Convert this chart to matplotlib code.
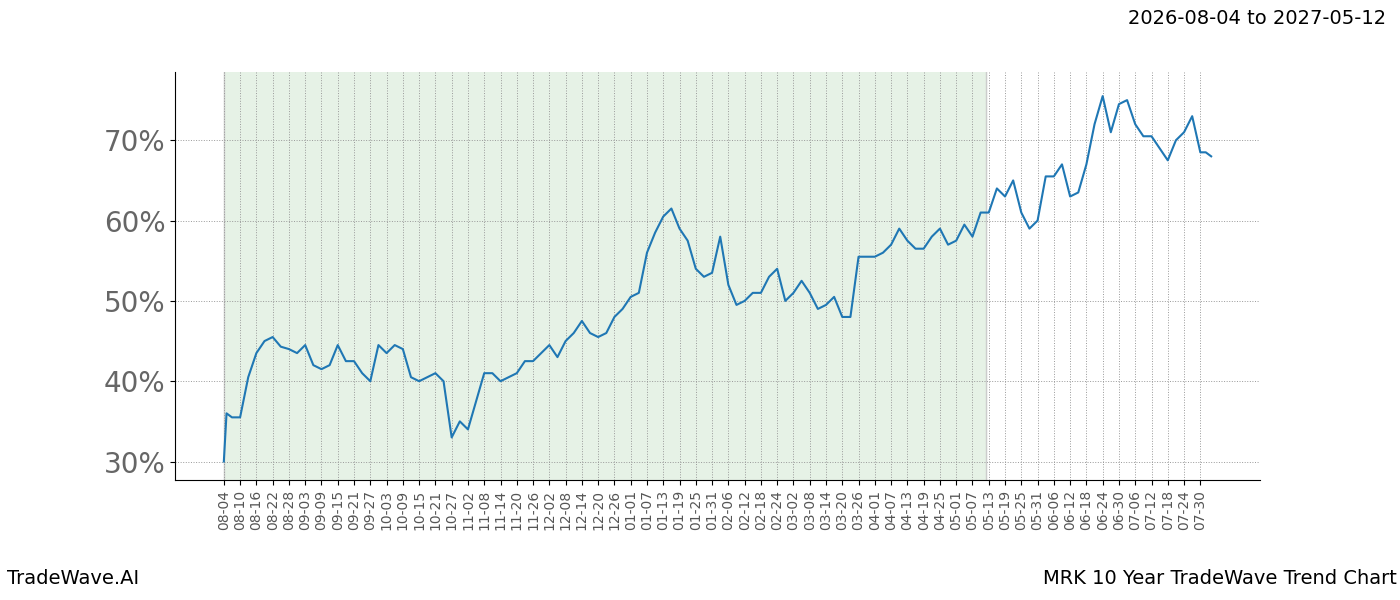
import matplotlib
matplotlib.use("Agg")
import matplotlib.pyplot as plt
import pandas as pd

dates = ["2026-08-04","2026-08-05","2026-08-07","2026-08-10","2026-08-13","2026-08-16","2026-08-19","2026-08-22","2026-08-25","2026-08-28","2026-08-31",
"2026-09-03","2026-09-06","2026-09-09","2026-09-12","2026-09-15","2026-09-18","2026-09-21","2026-09-24","2026-09-27","2026-09-30",
"2026-10-03","2026-10-06","2026-10-09","2026-10-12","2026-10-15","2026-10-18","2026-10-21","2026-10-24","2026-10-27","2026-10-30",
"2026-11-02","2026-11-05","2026-11-08","2026-11-11","2026-11-14","2026-11-17","2026-11-20","2026-11-23","2026-11-26","2026-11-29",
"2026-12-02","2026-12-05","2026-12-08","2026-12-11","2026-12-14","2026-12-17","2026-12-20","2026-12-23","2026-12-26","2026-12-29",
"2027-01-01","2027-01-04","2027-01-07","2027-01-10","2027-01-13","2027-01-16","2027-01-19","2027-01-22","2027-01-25","2027-01-28","2027-01-31",
"2027-02-03","2027-02-06","2027-02-09","2027-02-12","2027-02-15","2027-02-18","2027-02-21","2027-02-24","2027-02-27",
"2027-03-02","2027-03-05","2027-03-08","2027-03-11","2027-03-14","2027-03-17","2027-03-20","2027-03-23","2027-03-26","2027-03-29",
"2027-04-01","2027-04-04","2027-04-07","2027-04-10","2027-04-13","2027-04-16","2027-04-19","2027-04-22","2027-04-25","2027-04-28",
"2027-05-01","2027-05-04","2027-05-07","2027-05-10","2027-05-13","2027-05-16","2027-05-19","2027-05-22","2027-05-25","2027-05-28","2027-05-31",
"2027-06-03","2027-06-06","2027-06-09","2027-06-12","2027-06-15","2027-06-18","2027-06-21","2027-06-24","2027-06-27","2027-06-30",
"2027-07-03","2027-07-06","2027-07-09","2027-07-12","2027-07-15","2027-07-18","2027-07-21","2027-07-24","2027-07-27","2027-07-30","2027-08-01","2027-08-03"]
values = [30,36,35.5,35.5,40.5,43.5,45,45.5,44.3,44,43.5,
44.5,42,41.5,42,44.5,42.5,42.5,41,40,44.5,
43.5,44.5,44,40.5,40,40.5,41,40,33,35,
34,37.5,41,41,40,40.5,41,42.5,42.5,43.5,
44.5,43,45,46,47.5,46,45.5,46,48,49,
50.5,51,56,58.5,60.5,61.5,59,57.5,54,53,53.5,
58,52,49.5,50,51,51,53,54,50,
51,52.5,51,49,49.5,50.5,48,48,55.5,55.5,
55.5,56,57,59,57.5,56.5,56.5,58,59,57,
57.5,59.5,58,61,61,64,63,65,61,59,60,
65.5,65.5,67,63,63.5,67,72,75.5,71,74.5,
75,72,70.5,70.5,69,67.5,70,71,73,68.5,68.5,68]

start, end = "2026-08-04", "2027-05-12"
x = pd.to_datetime(dates)

fig = plt.figure(figsize=(14, 6), dpi=100)
ax = fig.add_axes([0.125, 0.2, 0.775, 0.68])
ax.plot(x, values, color="#1f77b4", lw=1.5)
ax.axvspan(pd.Timestamp(start), pd.Timestamp(end), color="#e6f2e6", zorder=0)
ax.axvline(pd.Timestamp(start), color="#cccccc", lw=1, zorder=0)
ax.axvline(pd.Timestamp(end), color="#cccccc", lw=1, zorder=0)

ticks = pd.date_range("2026-08-04", "2027-07-30", freq="6D")
ax.set_xticks(ticks)
ax.set_xticklabels([t.strftime("%m-%d") for t in ticks], rotation=90, fontsize=10, color="#555555")
ax.set_xlim(pd.Timestamp("2026-07-17"), pd.Timestamp("2027-08-21"))
ax.set_ylim(27.7, 78.5)
ax.set_yticks([30, 40, 50, 60, 70])
ax.set_yticklabels(["30%", "40%", "50%", "60%", "70%"], fontsize=20, color="#666666")
ax.grid(True, color="#999999", ls=":", lw=0.7)
for s in ["top", "right"]:
    ax.spines[s].set_visible(False)

fig.text(0.99, 0.97, f"{start} to {end}", ha="right", va="center", fontsize=14)
fig.text(0.005, 0.02, "TradeWave.AI", ha="left", va="bottom", fontsize=14)
fig.text(0.998, 0.02, "MRK 10 Year TradeWave Trend Chart", ha="right", va="bottom", fontsize=14)
fig.savefig("out.png")
